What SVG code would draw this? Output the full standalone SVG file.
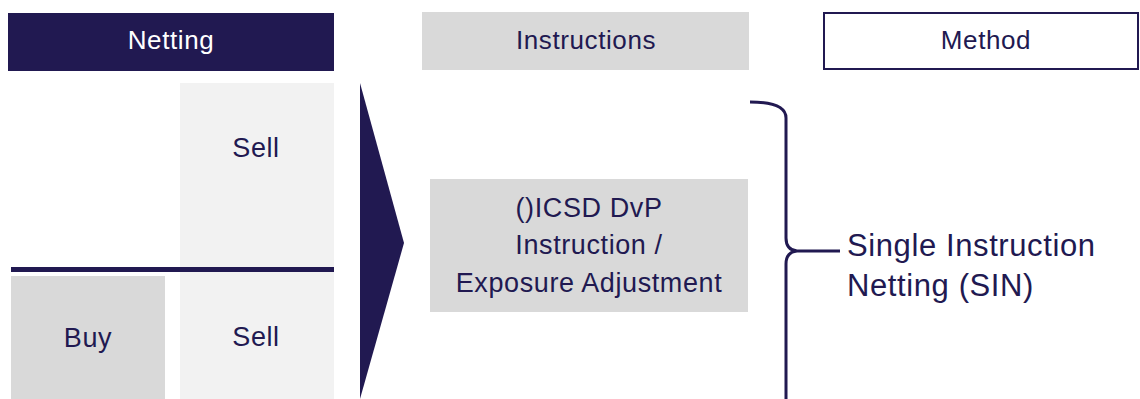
<svg xmlns="http://www.w3.org/2000/svg" width="1140" height="399" viewBox="0 0 1140 399">
<style>
.t{font-family:"Liberation Sans",Arial,sans-serif;fill:#211951;text-anchor:middle}
.hd{font-size:26px;letter-spacing:0.6px}
.bd{font-size:27px;letter-spacing:0.6px}
.w{fill:#ffffff}
.navy{fill:#211951}
.conn{fill:none;stroke:#211951;stroke-width:3}
.sin{font-size:31px;letter-spacing:0.6px;text-anchor:start}
</style>
<rect width="1140" height="399" fill="#ffffff"/>
<g id="netting-header">
<rect x="8" y="13" width="326" height="58" class="navy"/>
<text x="171" y="49" class="t hd w">Netting</text>
</g>
<g id="instructions-header">
<rect x="422" y="12" width="327" height="58" fill="#d9d9d9"/>
<text x="586" y="49" class="t hd">Instructions</text>
</g>
<g id="method-header">
<rect x="824" y="13" width="314" height="56" fill="#ffffff" stroke="#211951" stroke-width="2"/>
<text x="986" y="49" class="t hd">Method</text>
</g>
<g id="sell-column">
<rect x="180" y="83" width="154" height="316" fill="#f2f2f2"/>
<text x="256" y="157" class="t bd">Sell</text>
<text x="256" y="346" class="t bd">Sell</text>
</g>
<g id="buy">
<rect x="11" y="276" width="154" height="123" fill="#d9d9d9"/>
<text x="88" y="347" class="t bd">Buy</text>
</g>
<g id="divider">
<rect x="11" y="267" width="323" height="5" class="navy"/>
</g>
<g id="arrow">
<polygon points="360,83 404,243 360,399" class="navy"/>
</g>
<g id="instruction-box">
<rect x="430" y="179" width="318" height="133" fill="#d9d9d9"/>
<text class="t bd"><tspan x="589" y="217">()ICSD DvP</tspan><tspan x="589" y="254">Instruction /</tspan><tspan x="589" y="292">Exposure Adjustment</tspan></text>
</g>
<g id="connectors">
<path class="conn" d="M750,102 Q786,102 786,118 L786,238 Q786,250 797,251 L840,251 M797,251 Q786,252 786,264 L786,399"/>
</g>
<g id="sin-label">
<text x="847" y="256" class="t sin">Single Instruction</text>
<text x="847" y="296" class="t sin">Netting (SIN)</text>
</g>
</svg>
